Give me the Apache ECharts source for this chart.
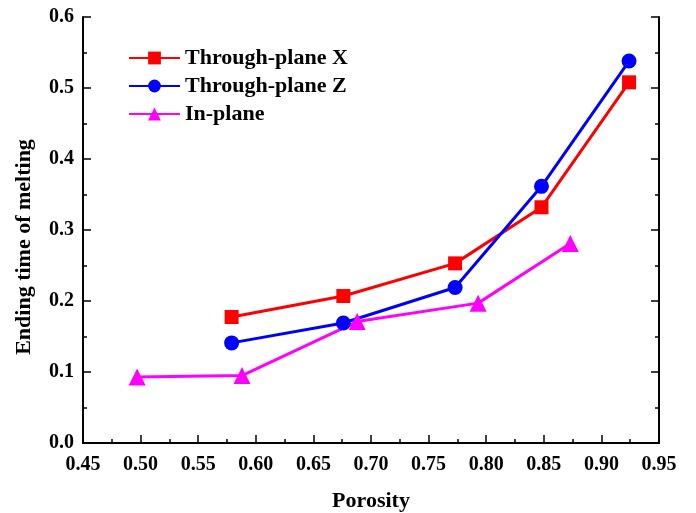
<!DOCTYPE html>
<html>
<head>
<meta charset="utf-8">
<script src="https://cdn.jsdelivr.net/npm/echarts@6/dist/echarts.min.js"></script>
<style>
  html, body { margin: 0; padding: 0; background: #fff; }
  #chart { width: 696px; height: 513px; }
</style>
</head>
<body>
<div id="chart"></div>
<script>
// Porosity vs. ending time of melting for three orientations
const porosityX = [0.579, 0.676, 0.773, 0.848, 0.924];
const timeX     = [0.1775, 0.207, 0.253, 0.332, 0.508];

const porosityZ = [0.579, 0.676, 0.773, 0.848, 0.924];
const timeZ     = [0.141, 0.169, 0.219, 0.3615, 0.538];

const porosityIn = [0.497, 0.588, 0.688, 0.793, 0.873];
const timeIn     = [0.093, 0.095, 0.171, 0.197, 0.281];

const seriesNames = ['Through-plane X', 'Through-plane Z', 'In-plane'];
const xTitle = 'Porosity';
const yTitle = 'Ending time of melting';

const pairs = (xs, ys) => xs.map((x, i) => [x, ys[i]]);

const FONT = '"Liberation Serif", "Times New Roman", serif';
const labelStyle = { color: '#000', fontFamily: FONT, fontWeight: 'bold', fontSize: 20 };
const titleStyle = { color: '#000', fontFamily: FONT, fontWeight: 'bold', fontSize: 22 };

const frameAxis = {
  axisLine: { show: true, lineStyle: { color: '#000', width: 2 } },
  axisTick: { show: true, inside: true, length: 8, lineStyle: { color: '#000', width: 1.5 } },
  minorTick: { show: true, splitNumber: 2, length: 4, lineStyle: { color: '#000', width: 1.5 } },
  splitLine: { show: false },
  minorSplitLine: { show: false }
};

const chart = echarts.init(document.getElementById('chart'), null, { renderer: 'canvas' });

chart.setOption({
  backgroundColor: '#fff',
  animation: false,
  grid: {
    left: 83, right: 37, top: 17, bottom: 70,
    containLabel: false, outerBoundsMode: 'none'
  },
  legend: {
    left: 123, top: 42, orient: 'vertical',
    itemWidth: 51, itemHeight: 16, itemGap: 6,
    textStyle: { color: '#000', fontFamily: FONT, fontWeight: 'bold', fontSize: 22 },
    data: seriesNames
  },
  xAxis: [
    Object.assign({}, frameAxis, {
      type: 'value', min: 0.45, max: 0.95, interval: 0.05, position: 'bottom',
      axisLabel: Object.assign({ margin: 12, formatter: v => v.toFixed(2) }, labelStyle),
      name: xTitle, nameLocation: 'middle', nameGap: 47,
      nameTextStyle: titleStyle
    }),
    Object.assign({}, frameAxis, {
      type: 'value', min: 0.45, max: 0.95, interval: 0.05, position: 'top',
      axisTick: { show: false }, minorTick: { show: false },
      axisLabel: { show: false }
    })
  ],
  yAxis: [
    Object.assign({}, frameAxis, {
      type: 'value', min: 0, max: 0.6, interval: 0.1, position: 'left',
      axisLabel: Object.assign({ margin: 9, formatter: v => v.toFixed(1) }, labelStyle),
      name: yTitle, nameLocation: 'middle', nameGap: 48,
      nameTextStyle: Object.assign({ padding: [0, 34, 0, 0] }, titleStyle)
    }),
    Object.assign({}, frameAxis, {
      type: 'value', min: 0, max: 0.6, interval: 0.1, position: 'right',
      axisLabel: { show: false }
    })
  ],
  series: [
    {
      name: seriesNames[0], type: 'line', data: pairs(porosityX, timeX),
      symbol: 'rect', symbolSize: 14,
      lineStyle: { color: '#ff0000', width: 3 },
      itemStyle: { color: '#ff0000' }
    },
    {
      name: seriesNames[1], type: 'line', data: pairs(porosityZ, timeZ),
      symbol: 'circle', symbolSize: 15,
      lineStyle: { color: '#0000ff', width: 3 },
      itemStyle: { color: '#0000ff' }
    },
    {
      name: seriesNames[2], type: 'line', data: pairs(porosityIn, timeIn),
      symbol: 'triangle', symbolSize: 17,
      lineStyle: { color: '#ff00ff', width: 3 },
      itemStyle: { color: '#ff00ff' }
    }
  ]
});
</script>
</body>
</html>
